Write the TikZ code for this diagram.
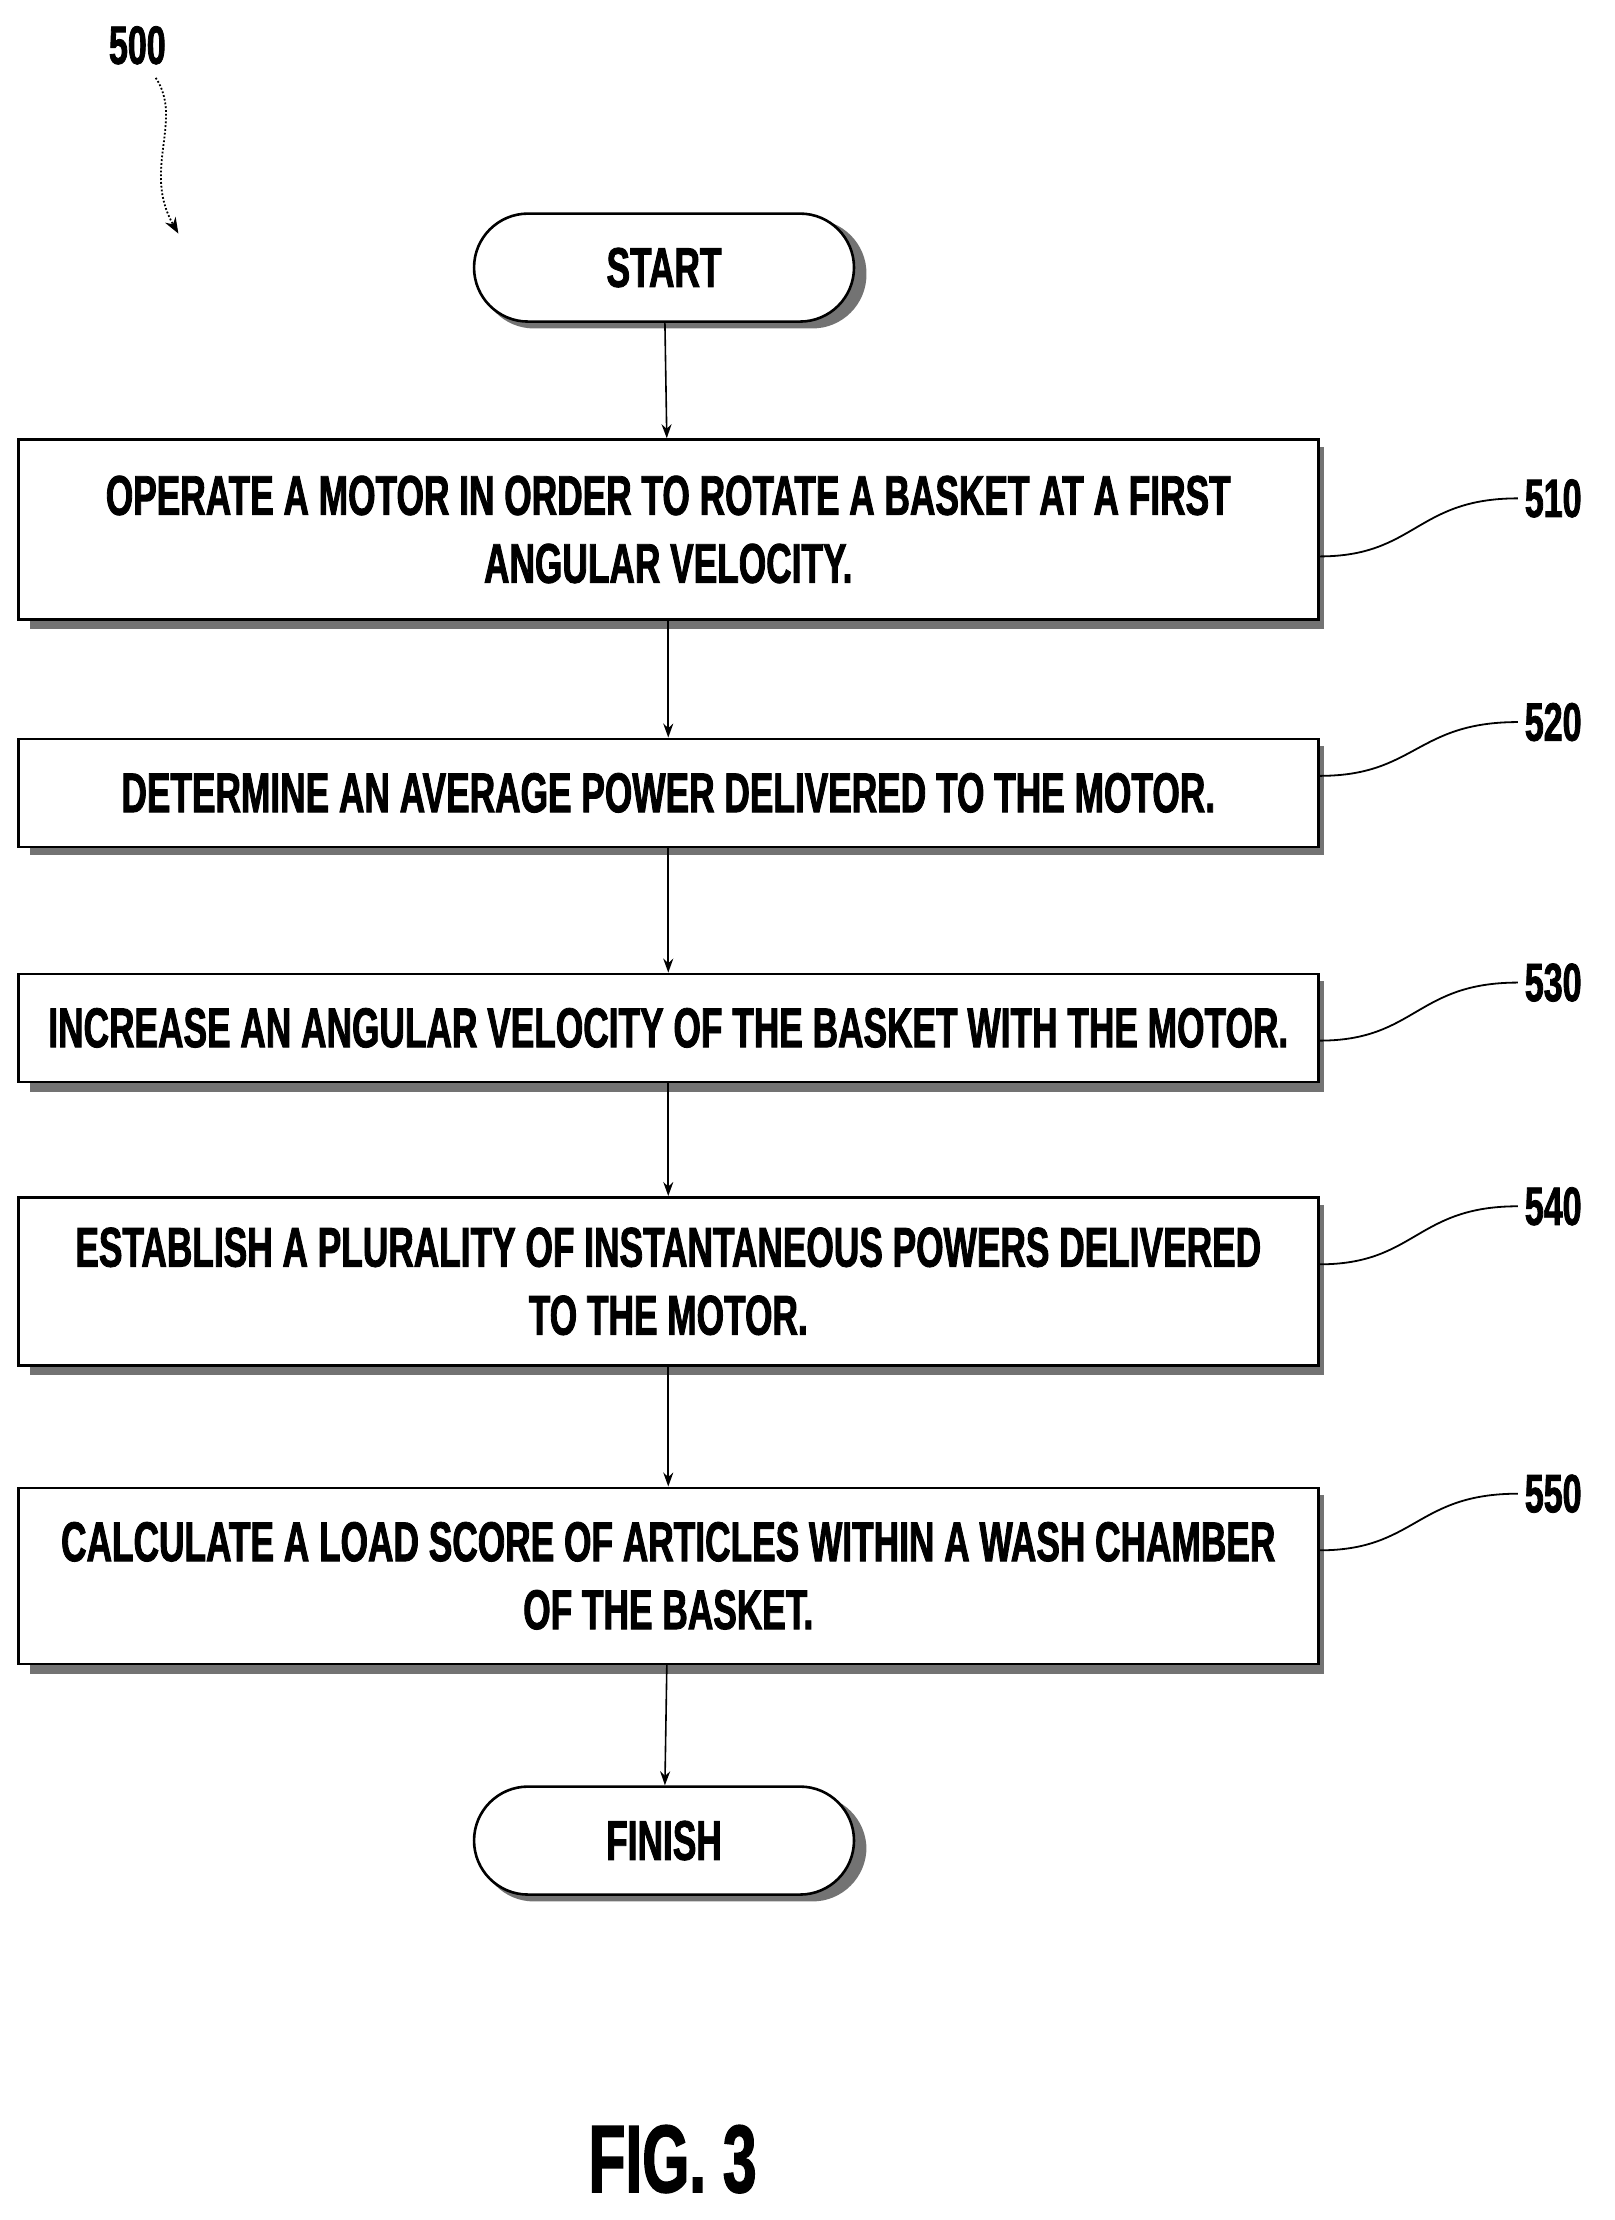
\documentclass[tikz,border=0pt]{standalone}
\usepackage{fontspec}
\setmainfont{Liberation Sans}[FakeStretch=0.63,FakeBold=1.5]
\usetikzlibrary{arrows.meta}
\begin{document}
\begin{tikzpicture}[x=0.708pt,y=-0.708pt,
  shad/.style={fill=black!55},
  box/.style={draw,line width=1.3pt,fill=white,minimum width=650pt,align=center,font=\fontsize{28}{34}\selectfont\bfseries,inner sep=0pt},
  term/.style={draw,line width=1.3pt,fill=white,rounded corners=27pt,minimum width=190pt,minimum height=54pt,font=\fontsize{28}{30}\selectfont\bfseries},
  arr/.style={line width=0.8pt,-{Stealth[length=7pt,width=5pt]}},
  lead/.style={line width=0.9pt},
  lab/.style={font=\fontsize{27}{30}\selectfont\bfseries}]
\useasboundingbox (0,0) rectangle (1140,1568);
\node[lab] (n500) at (97,32) {500};
\coordinate (a500) at (126,165);
\draw[lead,densely dotted,-{Stealth[length=8pt,width=6pt]}] (110,55) .. controls (130,85) and (100,120) .. (a500);

\fill[shad,rounded corners=27pt] (339,155) rectangle (612,232);
\node[term] (start) at (469,189) {START};

\fill[shad] (21,316) rectangle (935,444);
\node[box,minimum height=90pt] (b510) at (472,374) {OPERATE A MOTOR IN ORDER TO ROTATE A BASKET AT A FIRST\\ANGULAR VELOCITY.};
\fill[shad] (21,527) rectangle (935,604);
\node[box,minimum height=54pt] (b520) at (472,560) {DETERMINE AN AVERAGE POWER DELIVERED TO THE MOTOR.};
\fill[shad] (21,693) rectangle (935,771);
\node[box,minimum height=54pt] (b530) at (472,726) {INCREASE AN ANGULAR VELOCITY OF THE BASKET WITH THE MOTOR.};
\fill[shad] (21,851) rectangle (935,971);
\node[box,minimum height=84pt] (b540) at (472,905) {ESTABLISH A PLURALITY OF INSTANTANEOUS POWERS DELIVERED\\TO THE MOTOR.};
\fill[shad] (21,1056) rectangle (935,1182);
\node[box,minimum height=88pt] (b550) at (472,1113) {CALCULATE A LOAD SCORE OF ARTICLES WITHIN A WASH CHAMBER\\OF THE BASKET.};

\fill[shad,rounded corners=27pt] (339,1268) rectangle (612,1343);
\node[term] (finish) at (469,1300) {FINISH};

\draw[arr] (start) -- (b510);
\draw[arr] (b510) -- (b520);
\draw[arr] (b520) -- (b530);
\draw[arr] (b530) -- (b540);
\draw[arr] (b540) -- (b550);
\draw[arr] (b550) -- (finish);

\foreach \n/\y/\ly in {510/393/352, 520/548/510, 530/735/694, 540/893/852, 550/1095/1055}{
  \node[lab,anchor=west] (l\n) at (1072,\ly) {\n};
  \draw[lead] (b\n.east |- 0,\y) .. controls (1000,\y) and (1000,\ly) .. (l\n.west);
}
\node[font=\fontsize{48}{50}\selectfont\bfseries] (fig) at (475,1525) {FIG. 3};
\end{tikzpicture}
\end{document}
